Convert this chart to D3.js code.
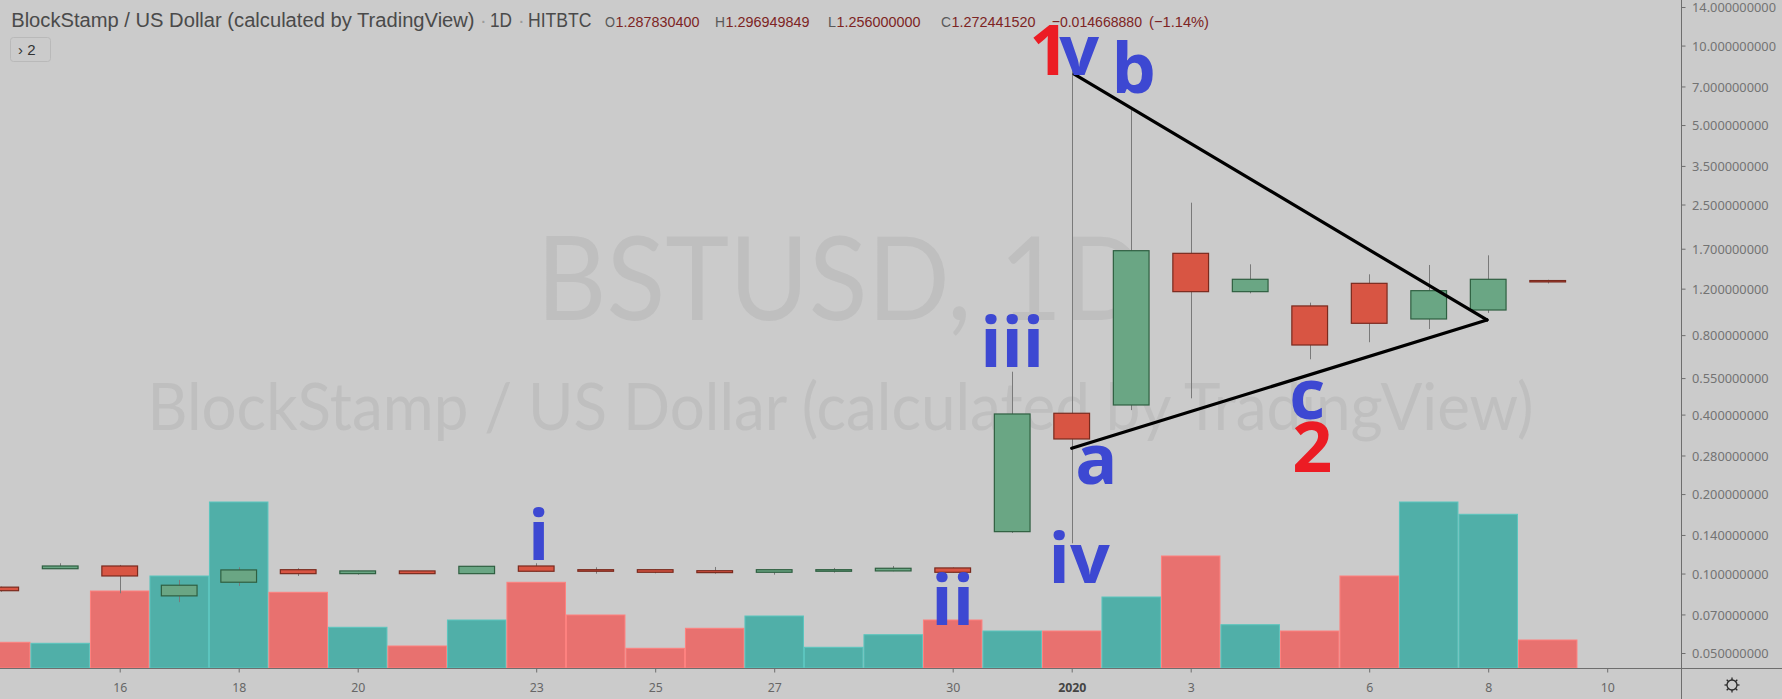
<!DOCTYPE html>
<html><head><meta charset="utf-8">
<script src="https://cdn.jsdelivr.net/npm/d3@7"></script>
<style>
html,body{margin:0;padding:0;background:#cbcbcb;overflow:hidden;}
svg{display:block;}
</style></head><body>
<svg id="chart" width="1782" height="699"></svg>
<script>
// ---------- data ----------
const dates = ["2019-12-14","2019-12-15","2019-12-16","2019-12-17","2019-12-18","2019-12-19","2019-12-20",
  "2019-12-21","2019-12-22","2019-12-23","2019-12-24","2019-12-25","2019-12-26","2019-12-27","2019-12-28",
  "2019-12-29","2019-12-30","2019-12-31","2020-01-01","2020-01-02","2020-01-03","2020-01-04","2020-01-05",
  "2020-01-06","2020-01-07","2020-01-08","2020-01-09"];
const open  = [0.0888,0.1043,0.1068,0.0823,0.0927,0.1034,0.0999,0.1023,0.0999,0.1068,0.1034,0.1034,0.1025,0.1011,
  0.1020,0.1023,0.1050,0.1441,0.4047,0.435,1.633,1.169,1.032,1.257,0.921,0.996,1.287830400];
const high  = [0.0892,0.1094,0.1078,0.0946,0.1056,0.1047,0.1025,0.1025,0.1068,0.1094,0.1056,0.1036,0.1059,0.1036,
  0.1050,0.1068,0.1055,0.5816,8.2,5.70,2.54,1.484,1.062,1.360,1.475,1.605,1.296949849];
const low   = [0.0853,0.1040,0.0842,0.0779,0.0897,0.0979,0.0990,0.0997,0.0997,0.1018,0.0999,0.1002,0.0999,0.0990,
  0.1008,0.1020,0.1008,0.1425,0.1302,0.416,0.461,1.152,0.648,0.752,0.844,0.971,1.256000000];
const close = [0.0861,0.1068,0.0979,0.0903,0.1032,0.0999,0.1023,0.0999,0.1065,0.1020,0.1020,0.1011,0.1008,0.1034,
  0.1034,0.1047,0.1011,0.4022,0.3234,1.671,1.169,1.302,0.734,0.887,1.179,1.302,1.272441520];
const volume = [25.7,24.7,77,92,166,75.7,40.7,22,48,85.7,53,19.7,39.7,52,20.7,33.3,48,37,37,71,112,43.3,37,92,166,153.7,28];

const priceTicks = [14,10,7,5,3.5,2.5,1.7,1.2,0.8,0.55,0.4,0.28,0.2,0.14,0.1,0.07,0.05];
const dateTicks = ["2019-12-16","2019-12-18","2019-12-20","2019-12-23","2019-12-25","2019-12-27","2019-12-30",
  "2020-01-01","2020-01-03","2020-01-06","2020-01-08","2020-01-10"];
const dateTickLabels = ["16","18","20","23","25","27","30","2020","3","6","8","10"];

const waveLabels = [
  {text:"i",   t:"2019-12-23T01:00Z", p:0.1126, wave:false},
  {text:"ii",  t:"2019-12-30T00:00Z", p:0.0639, wave:false},
  {text:"iii", t:"2019-12-31T00:00Z", p:0.6076, wave:false},
  {text:"iv",  t:"2020-01-01T03:00Z", p:0.0921, wave:false},
  {text:"1",   t:"2019-12-31T15:00Z", p:7.74,   wave:true},
  {text:"v",   t:"2020-01-01T03:00Z", p:7.74,   wave:false},
  {text:"a",   t:"2020-01-01T10:00Z", p:0.2184, wave:false},
  {text:"b",   t:"2020-01-02T01:00Z", p:6.61,   wave:false},
  {text:"c",   t:"2020-01-04T23:00Z", p:0.3834, wave:false},
  {text:"2",   t:"2020-01-05T01:00Z", p:0.2431, wave:true}
];
const trendLines = [
  {t1:"2020-01-01T01:00Z", p1:7.80,   t2:"2020-01-07T23:30Z", p2:0.913},
  {t1:"2020-01-01T00:00Z", p1:0.2982, t2:"2020-01-07T23:30Z", p2:0.913}
];

const title = "BlockStamp / US Dollar (calculated by TradingView)";
const interval = "1D";
const exchange = "HITBTC";
const ohlcNames = ["O","H","L","C"];
const ohlcValues = ["1.287830400","1.296949849","1.256000000","1.272441520"];
const changeText = "\u22120.014668880";
const changePct = "(\u22121.14%)";
const watermark1 = "BSTUSD, 1D";

// ---------- layout ----------
const W = 1782, H = 699;
const plotRight = 1681, plotBottom = 668;
const BG = "#cbcbcb";
const UP = "#6aa684", UPB = "#2f5f41", DN = "#d85543", DNB = "#7a2a1e";
const VUP = "#50afa8", VDN = "#e8716f";
const BLUE = "#3d48d2", RED = "#ec1c24";

const parse = s => new Date(s.length === 10 ? s + "T00:00Z" : s);
const candles = dates.map((d,i)=>({date:parse(d), o:open[i], h:high[i], l:low[i], c:close[i], v:volume[i]}));

const x = d3.scaleUtc().domain([parse("2019-12-14"), parse("2020-01-10")]).range([0.7, 1607.2]);
const y = d3.scaleLog().domain([0.05, 14]).range([653, 7]);
const vy = d3.scaleLinear().domain([0, d3.max(volume)]).range([plotBottom, 502]);
const dayW = x(parse("2019-12-15")) - x(parse("2019-12-14"));
const bodyW = dayW * 0.6;

const svg = d3.select("#chart");
svg.append("rect").attr("width",W).attr("height",H).attr("fill",BG);

const plot = svg.append("g");
plot.append("clipPath").attr("id","clip").append("rect").attr("width",plotRight).attr("height",plotBottom);
const pg = plot.append("g").attr("clip-path","url(#clip)");

// watermark
const cx = plotRight/2;
pg.append("text").attr("x",cx).attr("y",320).attr("text-anchor","middle")
  .attr("font-family","Lato, 'Open Sans', sans-serif").attr("font-size",116).attr("fill","#bfbfbf")
  .attr("textLength",608).attr("lengthAdjust","spacingAndGlyphs").text(watermark1);
pg.append("text").attr("x",cx).attr("y",430).attr("text-anchor","middle")
  .attr("font-family","Lato, 'Open Sans', sans-serif").attr("font-size",66).attr("fill","#bfbfbf")
  .attr("textLength",1386).attr("lengthAdjust","spacingAndGlyphs").text(title);

// volume
pg.append("g").selectAll("rect").data(candles).join("rect")
  .attr("x", d => x(d.date) - dayW/2 + 0.5)
  .attr("width", dayW - 1)
  .attr("y", d => vy(d.v))
  .attr("height", d => plotBottom - vy(d.v))
  .attr("fill", d => d.c >= d.o ? VUP : VDN)
  .attr("stroke", d => d3.color(d.c >= d.o ? VUP : VDN).brighter(0.35))
  .attr("stroke-width", 1);

// candles
const cg = pg.append("g");
cg.selectAll("line").data(candles).join("line")
  .attr("x1", d => Math.round(x(d.date)) + 0.5).attr("x2", d => Math.round(x(d.date)) + 0.5)
  .attr("y1", d => y(d.h)).attr("y2", d => y(d.l))
  .attr("stroke", "#7a7a7a").attr("stroke-width", 1);
cg.selectAll("rect").data(candles).join("rect")
  .attr("x", d => x(d.date) - bodyW/2)
  .attr("width", bodyW)
  .attr("y", d => y(Math.max(d.o, d.c)))
  .attr("height", d => Math.max(1, y(Math.min(d.o, d.c)) - y(Math.max(d.o, d.c))))
  .attr("fill", d => d.c >= d.o ? UP : DN)
  .attr("stroke", d => d.c >= d.o ? UPB : DNB)
  .attr("stroke-width", 1.2);

// trend lines
pg.append("g").selectAll("line").data(trendLines).join("line")
  .attr("x1", d => x(parse(d.t1))).attr("y1", d => y(d.p1))
  .attr("x2", d => x(parse(d.t2))).attr("y2", d => y(d.p2))
  .attr("stroke", "#000").attr("stroke-width", 3.2).attr("stroke-linecap","round");

// wave labels
pg.append("g").selectAll("text").data(waveLabels).join("text")
  .attr("x", d => x(parse(d.t))).attr("y", d => y(d.p))
  .attr("text-anchor", "middle")
  .attr("font-family", "'Open Sans', 'Noto Sans', sans-serif").attr("font-weight", 700).attr("font-size", 70)
  .attr("fill", d => d.wave ? RED : BLUE)
  .text(d => d.text);

// axes frame
svg.append("line").attr("x1",plotRight+0.5).attr("x2",plotRight+0.5).attr("y1",0).attr("y2",H)
  .attr("stroke","#6e6e6e").attr("stroke-width",1);
svg.append("line").attr("x1",0).attr("x2",W).attr("y1",plotBottom+0.5).attr("y2",plotBottom+0.5)
  .attr("stroke","#6e6e6e").attr("stroke-width",1);

// y axis
const yAxis = svg.append("g").attr("transform",`translate(${plotRight+0.5},0)`)
  .call(d3.axisRight(y).tickValues(priceTicks).tickFormat(d3.format(".9f")).tickSize(4).tickPadding(6.5));
yAxis.select(".domain").remove();
yAxis.selectAll(".tick line").attr("stroke","#6e6e6e");
yAxis.selectAll(".tick text").attr("fill","#737373").attr("font-family","'Noto Sans', sans-serif")
  .attr("font-size",12.8).attr("dy","0.36em");

// x axis
const xAxis = svg.append("g").attr("transform",`translate(0,${plotBottom+0.5})`)
  .call(d3.axisBottom(x).tickValues(dateTicks.map(parse)).tickFormat((d,i)=>dateTickLabels[i]).tickSize(4).tickPadding(10.5));
xAxis.select(".domain").remove();
xAxis.selectAll(".tick line").attr("stroke","#6e6e6e");
xAxis.selectAll(".tick text").attr("font-family","'Noto Sans', sans-serif").attr("font-size",12.3)
  .attr("font-weight",(d,i)=>dateTickLabels[i]==="2020"?700:400)
  .attr("fill",(d,i)=>dateTickLabels[i]==="2020"?"#444":"#666");

// gear icon
const gear = svg.append("g").attr("transform","translate(1732,685)");
gear.append("circle").attr("r",5).attr("fill","none").attr("stroke","#2a2a2a").attr("stroke-width",1.3);
d3.range(8).forEach(k=>{
  const a = k*Math.PI/4;
  gear.append("line").attr("x1",5*Math.cos(a)).attr("y1",5*Math.sin(a))
    .attr("x2",7.5*Math.cos(a)).attr("y2",7.5*Math.sin(a)).attr("stroke","#2a2a2a").attr("stroke-width",1.3);
});

// header
const hg = svg.append("g").attr("font-family","'Liberation Sans', Arial, sans-serif");
function seg(txt, x0, w, size, color, weight){
  const t = hg.append("text").attr("x",x0).attr("y",26.7).attr("font-size",size).attr("fill",color)
    .attr("font-weight",weight||400).text(txt);
  if (w) t.attr("textLength",w).attr("lengthAdjust","spacingAndGlyphs");
  return t;
}
seg(title, 11.2, 463.4, 20, "#4a4a4a");
seg("\u00b7", 480, null, 20, "#9c9c9c");
seg(interval, 490, 22, 20, "#4a4a4a");
seg("\u00b7", 518, null, 20, "#9c9c9c");
seg(exchange, 528, 63.5, 20, "#4a4a4a");
const ohlcX = [605, 715, 828, 941];
const nameW = [10, 10, 8, 10];
ohlcNames.forEach((n,i)=>{
  seg(n, ohlcX[i], nameW[i], 15.5, "#5a5a5a");
  seg(ohlcValues[i], ohlcX[i]+nameW[i]+0.5, 84, 15.5, "#7d2424");
});
seg(changeText, 1051.7, 90.3, 15.5, "#7d2424");
seg(changePct, 1149, 60, 15.5, "#7d2424");

// "> 2" box
svg.append("rect").attr("x",10.5).attr("y",37.5).attr("width",40).attr("height",24).attr("rx",3)
  .attr("fill","none").attr("stroke","#b9b9b9");
svg.append("text").attr("x",18).attr("y",55).attr("font-family","'Liberation Sans', Arial, sans-serif")
  .attr("font-size",15).attr("fill","#333").text("\u203a 2");
</script>
</body></html>
